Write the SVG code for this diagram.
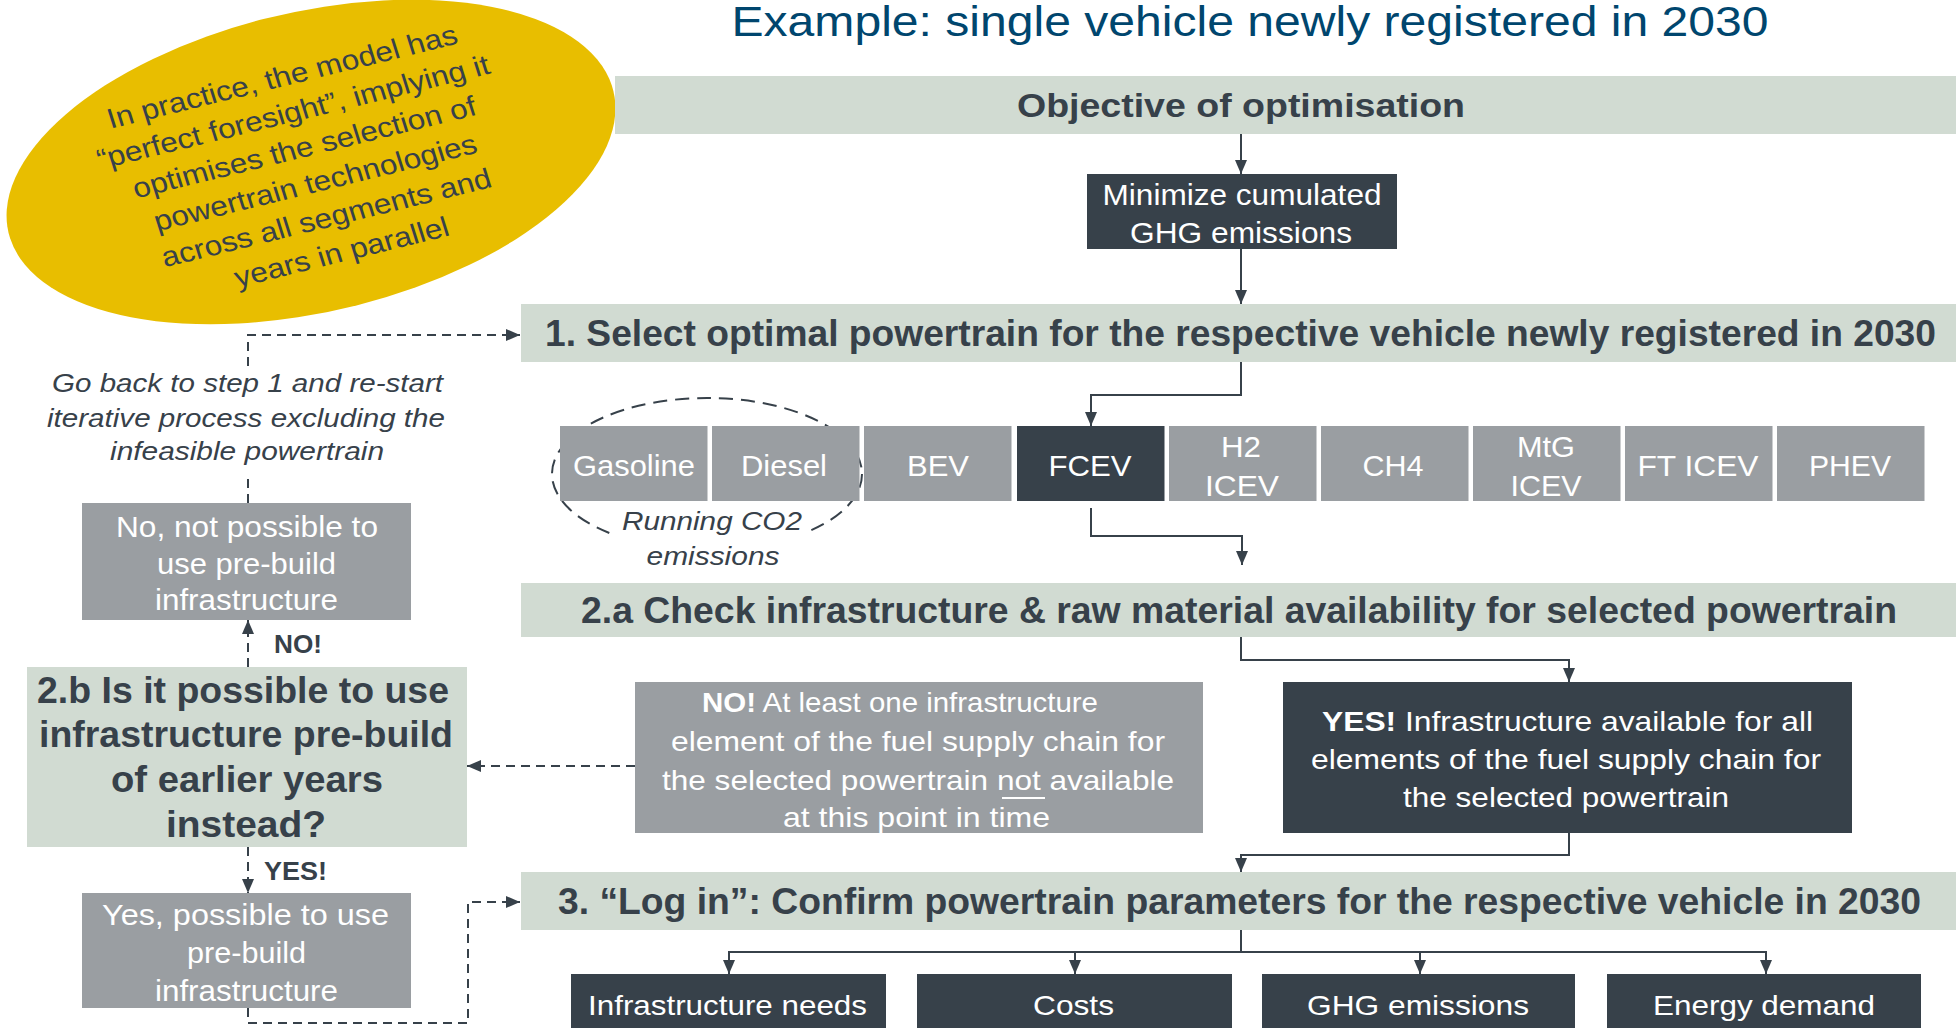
<svg xmlns="http://www.w3.org/2000/svg" width="1956" height="1028" viewBox="0 0 1956 1028">
  <style>
    text { font-family: "Liberation Sans", Arial, sans-serif; }
    .c { text-anchor: middle; }
    .b { font-weight: bold; }
    .i { font-style: italic; }
    .w { fill: #ffffff; }
    .k { fill: #37414a; }
    .band { fill: #d1dbd2; }
    .dark { fill: #37414a; }
    .gray { fill: #9a9ea2; }
    .ln { stroke: #37414a; stroke-width: 2; fill: none; }
    .dash { stroke-dasharray: 9 6; }
  </style>
  <defs>
    <marker id="ah" viewBox="0 0 14 12" refX="14" refY="6" markerWidth="14" markerHeight="12" markerUnits="userSpaceOnUse" orient="auto">
      <path d="M0,0 L14,6 L0,12 z" fill="#37414a"/>
    </marker>
  </defs>

  <rect width="1956" height="1028" fill="#ffffff"/>

  <!-- heading -->
  <text id="title" x="1250" y="36" class="c" font-size="43" fill="#00466e" textLength="1037" lengthAdjust="spacingAndGlyphs">Example: single vehicle newly registered in 2030</text>

  <!-- note bubble -->
  <g id="note" transform="translate(311 162) scale(1.13 1)">
    <ellipse cx="0" cy="0" rx="277" ry="149" transform="rotate(-16)" fill="#e8be00"/>
    <g transform="rotate(-15.5)">
      <text class="c k" font-size="28">
        <tspan x="2" y="-79.5">In practice, the model has</tspan>
        <tspan x="2" y="-42.9">“perfect foresight”, implying it</tspan>
        <tspan x="2" y="-6.3">optimises the selection of</tspan>
        <tspan x="2" y="30.3">powertrain technologies</tspan>
        <tspan x="2" y="66.9">across all segments and</tspan>
        <tspan x="2" y="103.5">years in parallel</tspan>
      </text>
    </g>
  </g>

  <!-- objective -->
  <g id="objective">
    <rect class="band" x="615" y="76" width="1341" height="58"/>
    <text class="c b k" x="1241" y="117" font-size="33" textLength="448" lengthAdjust="spacingAndGlyphs">Objective of optimisation</text>
  </g>

  <g id="minimize">
    <rect class="dark" x="1087" y="174" width="310" height="75"/>
    <text class="c w" x="1242" y="205" font-size="30" textLength="279" lengthAdjust="spacingAndGlyphs">Minimize cumulated</text>
    <text class="c w" x="1241" y="243" font-size="30" textLength="222" lengthAdjust="spacingAndGlyphs">GHG emissions</text>
  </g>

  <!-- step 1 -->
  <g id="step1">
    <rect class="band" x="521" y="304" width="1435" height="58"/>
    <text class="c b k" x="1240.5" y="346" font-size="37" textLength="1391" lengthAdjust="spacingAndGlyphs">1. Select optimal powertrain for the respective vehicle newly registered in 2030</text>
  </g>

  <!-- group outline for running-CO2 powertrains (behind boxes) -->
  <g id="running-co2">
    <ellipse cx="707" cy="474" rx="155" ry="76" class="ln" stroke-dasharray="14 8"/>
    <rect x="611" y="505" width="198" height="70" fill="#ffffff"/>
    <text class="c k i" x="712" y="530" font-size="26" textLength="180" lengthAdjust="spacingAndGlyphs">Running CO2</text>
    <text class="c k i" x="713" y="565" font-size="26" textLength="133" lengthAdjust="spacingAndGlyphs">emissions</text>
  </g>

  <!-- powertrain options -->
  <g id="pt-gasoline">
    <rect class="gray" x="560" y="426" width="147.5" height="75"/>
    <text class="c w" x="634" y="476" font-size="29" textLength="122" lengthAdjust="spacingAndGlyphs">Gasoline</text>
  </g>
  <g id="pt-diesel">
    <rect class="gray" x="712" y="426" width="147.5" height="75"/>
    <text class="c w" x="784" y="476" font-size="29" textLength="86" lengthAdjust="spacingAndGlyphs">Diesel</text>
  </g>
  <g id="pt-bev">
    <rect class="gray" x="864" y="426" width="147.5" height="75"/>
    <text class="c w" x="938" y="476" font-size="29" textLength="62" lengthAdjust="spacingAndGlyphs">BEV</text>
  </g>
  <g id="pt-fcev">
    <rect class="dark" x="1017" y="426" width="147.5" height="75"/>
    <text class="c w" x="1090" y="476" font-size="29" textLength="83" lengthAdjust="spacingAndGlyphs">FCEV</text>
  </g>
  <g id="pt-h2icev">
    <rect class="gray" x="1169" y="426" width="147.5" height="75"/>
    <text class="c w" x="1241" y="457" font-size="29" textLength="40" lengthAdjust="spacingAndGlyphs">H2</text>
    <text class="c w" x="1242" y="496" font-size="29" textLength="74" lengthAdjust="spacingAndGlyphs">ICEV</text>
  </g>
  <g id="pt-ch4">
    <rect class="gray" x="1321" y="426" width="147.5" height="75"/>
    <text class="c w" x="1393" y="476" font-size="29" textLength="61" lengthAdjust="spacingAndGlyphs">CH4</text>
  </g>
  <g id="pt-mtg">
    <rect class="gray" x="1473" y="426" width="147.5" height="75"/>
    <text class="c w" x="1546" y="457" font-size="29" textLength="58" lengthAdjust="spacingAndGlyphs">MtG</text>
    <text class="c w" x="1546" y="496" font-size="29" textLength="71" lengthAdjust="spacingAndGlyphs">ICEV</text>
  </g>
  <g id="pt-fticev">
    <rect class="gray" x="1625" y="426" width="147.5" height="75"/>
    <text class="c w" x="1698" y="476" font-size="29" textLength="121" lengthAdjust="spacingAndGlyphs">FT ICEV</text>
  </g>
  <g id="pt-phev">
    <rect class="gray" x="1777" y="426" width="147.5" height="75"/>
    <text class="c w" x="1850" y="476" font-size="29" textLength="82" lengthAdjust="spacingAndGlyphs">PHEV</text>
  </g>

  <!-- step 2.a -->
  <g id="step2a">
    <rect class="band" x="521" y="583" width="1435" height="54"/>
    <text class="c b k" x="1239" y="623" font-size="37" textLength="1316" lengthAdjust="spacingAndGlyphs">2.a Check infrastructure &amp; raw material availability for selected powertrain</text>
  </g>

  <g id="infra-no">
    <rect class="gray" x="635" y="682" width="568" height="151"/>
    <text class="c w" x="900" y="712" font-size="28" textLength="396" lengthAdjust="spacingAndGlyphs"><tspan class="b">NO!</tspan> At least one infrastructure</text>
    <text class="c w" x="918" y="751" font-size="28" textLength="494" lengthAdjust="spacingAndGlyphs">element of the fuel supply chain for</text>
    <text class="c w" x="918" y="790" font-size="28" textLength="512" lengthAdjust="spacingAndGlyphs">the selected powertrain not available</text>
    <line x1="1002" y1="798" x2="1045" y2="798" stroke="#ffffff" stroke-width="2"/>
    <text class="c w" x="916.5" y="827" font-size="28" textLength="267" lengthAdjust="spacingAndGlyphs">at this point in time</text>
  </g>

  <g id="infra-yes">
    <rect class="dark" x="1283" y="682" width="569" height="151"/>
    <text class="c w" x="1567.5" y="731" font-size="28" textLength="491" lengthAdjust="spacingAndGlyphs"><tspan class="b">YES!</tspan> Infrastructure available for all</text>
    <text class="c w" x="1566" y="769" font-size="28" textLength="510" lengthAdjust="spacingAndGlyphs">elements of the fuel supply chain for</text>
    <text class="c w" x="1566" y="807" font-size="28" textLength="326" lengthAdjust="spacingAndGlyphs">the selected powertrain</text>
  </g>

  <!-- step 2.b -->
  <g id="step2b">
    <rect class="band" x="27" y="667" width="440" height="180"/>
    <text class="c b k" x="243" y="703" font-size="36" textLength="412" lengthAdjust="spacingAndGlyphs">2.b Is it possible to use</text>
    <text class="c b k" x="246" y="747" font-size="36" textLength="414" lengthAdjust="spacingAndGlyphs">infrastructure pre-build</text>
    <text class="c b k" x="247" y="792" font-size="36" textLength="272" lengthAdjust="spacingAndGlyphs">of earlier years</text>
    <text class="c b k" x="246" y="837" font-size="36" textLength="160" lengthAdjust="spacingAndGlyphs">instead?</text>
  </g>

  <g id="prebuild-no">
    <rect class="gray" x="82" y="503" width="329" height="117"/>
    <text class="c w" x="247" y="537" font-size="29" textLength="262" lengthAdjust="spacingAndGlyphs">No, not possible to</text>
    <text class="c w" x="246.5" y="573.5" font-size="29" textLength="179" lengthAdjust="spacingAndGlyphs">use pre-build</text>
    <text class="c w" x="246.5" y="610" font-size="29" textLength="183" lengthAdjust="spacingAndGlyphs">infrastructure</text>
  </g>

  <g id="prebuild-yes">
    <rect class="gray" x="82" y="893" width="329" height="115"/>
    <text class="c w" x="245.5" y="925" font-size="29" textLength="287" lengthAdjust="spacingAndGlyphs">Yes, possible to use</text>
    <text class="c w" x="246.5" y="963" font-size="29" textLength="119" lengthAdjust="spacingAndGlyphs">pre-build</text>
    <text class="c w" x="246.5" y="1001" font-size="29" textLength="183" lengthAdjust="spacingAndGlyphs">infrastructure</text>
  </g>

  <g id="restart-note">
    <text class="c k i" x="247.5" y="392" font-size="26" textLength="391" lengthAdjust="spacingAndGlyphs">Go back to step 1 and re-start</text>
    <text class="c k i" x="246" y="427" font-size="26" textLength="398" lengthAdjust="spacingAndGlyphs">iterative process excluding the</text>
    <text class="c k i" x="247" y="460" font-size="26" textLength="274" lengthAdjust="spacingAndGlyphs">infeasible powertrain</text>
  </g>

  <!-- step 3 -->
  <g id="step3">
    <rect class="band" x="521" y="872" width="1435" height="58"/>
    <text class="c b k" x="1239.5" y="914" font-size="37" textLength="1363" lengthAdjust="spacingAndGlyphs">3. “Log in”: Confirm powertrain parameters for the respective vehicle in 2030</text>
  </g>

  <g id="out-infra">
    <rect class="dark" x="571" y="974" width="315" height="54"/>
    <text class="c w" x="727.5" y="1015" font-size="28" textLength="279" lengthAdjust="spacingAndGlyphs">Infrastructure needs</text>
  </g>
  <g id="out-costs">
    <rect class="dark" x="917" y="974" width="315" height="54"/>
    <text class="c w" x="1073.5" y="1015" font-size="28" textLength="81" lengthAdjust="spacingAndGlyphs">Costs</text>
  </g>
  <g id="out-ghg">
    <rect class="dark" x="1262" y="974" width="313" height="54"/>
    <text class="c w" x="1418" y="1015" font-size="28" textLength="222" lengthAdjust="spacingAndGlyphs">GHG emissions</text>
  </g>
  <g id="out-energy">
    <rect class="dark" x="1607" y="974" width="314" height="54"/>
    <text class="c w" x="1764" y="1015" font-size="28" textLength="222" lengthAdjust="spacingAndGlyphs">Energy demand</text>
  </g>

  <!-- decision labels -->
  <text id="lbl-no" class="b k" x="274" y="653" font-size="26" textLength="48" lengthAdjust="spacingAndGlyphs">NO!</text>
  <text id="lbl-yes" class="b k" x="264" y="880" font-size="26" textLength="63" lengthAdjust="spacingAndGlyphs">YES!</text>

  <!-- connectors -->
  <g id="connectors">
    <path class="ln" d="M1241,134 V174" marker-end="url(#ah)"/>
    <path class="ln" d="M1241,249 V304" marker-end="url(#ah)"/>
    <path class="ln" d="M1241,362 V395 H1091 V426" marker-end="url(#ah)"/>
    <path class="ln" d="M1091,508 V536 H1242 V565" marker-end="url(#ah)"/>
    <path class="ln" d="M1241,637 V660 H1569 V682" marker-end="url(#ah)"/>
    <path class="ln" d="M1569,833 V855 H1241 V872" marker-end="url(#ah)"/>
    <path class="ln" d="M1241,930 V952"/>
    <path class="ln" d="M1241,952 H729 V974" marker-end="url(#ah)"/>
    <path class="ln" d="M1241,952 H1766 V974" marker-end="url(#ah)"/>
    <path class="ln" d="M1075,952 V974" marker-end="url(#ah)"/>
    <path class="ln" d="M1420,952 V974" marker-end="url(#ah)"/>

    <path class="ln dash" d="M635,766 H467" marker-end="url(#ah)"/>
    <path class="ln dash" d="M248,667 V620" marker-end="url(#ah)"/>
    <path class="ln dash" d="M248,847 V893" marker-end="url(#ah)"/>
    <path class="ln dash" d="M248,1008 V1023 H468 V902 H520" marker-end="url(#ah)"/>
    <path class="ln dash" d="M248,503 V477"/>
    <path class="ln dash" d="M248,366 V335 H520" marker-end="url(#ah)"/>
  </g>
</svg>
